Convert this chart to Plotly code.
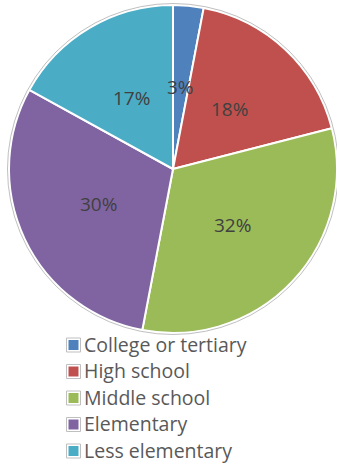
import math
import plotly.graph_objects as go

# Share of respondents by highest education level
categories = ["College or tertiary", "High school", "Middle school", "Elementary", "Less elementary"]
shares = [3, 18, 32, 30, 17]
colors = ["#4f81bd", "#c0504d", "#9bbb59", "#8064a2", "#4bacc6"]

W, H = 337, 464
cx, cy, R = 173, 169, 164  # pie centre and radius in pixels


def px_x(x):
    return x / W


def px_y(y):
    return 1 - y / H


fig = go.Figure(go.Pie(
    labels=categories,
    values=shares,
    sort=False,
    direction="clockwise",
    rotation=0,
    marker=dict(colors=colors, line=dict(color="white", width=2)),
    textinfo="none",
    textposition="none",
    hoverinfo="label+percent",
    showlegend=False,
    domain=dict(x=[px_x(cx - R), min(1, px_x(cx + R))],
                y=[px_y(cy + R), px_y(cy - R)]),
))

# percentage labels placed halfway out along each slice's mid-angle
total = sum(shares)
acc = 0
for v in shares:
    mid = (acc + v / 2) / total * 2 * math.pi
    acc += v
    lx = cx + 0.5 * R * math.sin(mid)
    ly = cy - 0.5 * R * math.cos(mid)
    fig.add_annotation(x=px_x(lx), y=px_y(ly), xref="paper", yref="paper",
                       xanchor="center", yanchor="middle",
                       text=f"{round(v / total * 100)}%", showarrow=False,
                       font=dict(family="Open Sans", size=19, color="#404040"))

# thin grey rim around the pie
rr = R + 1.5
fig.add_shape(type="circle", xref="paper", yref="paper",
              x0=px_x(cx - rr), x1=px_x(cx + rr),
              y0=px_y(cy + rr), y1=px_y(cy - rr),
              line=dict(color="#c0c0c0", width=1), layer="above")

# legend: boxed colour swatch followed by the category name
leg_x, leg_y0, leg_dy, sw, sh = 66.5, 345, 26.5, 14, 14
for i, (name, col) in enumerate(zip(categories, colors)):
    yc = leg_y0 + i * leg_dy
    fig.add_shape(type="rect", xref="paper", yref="paper",
                  x0=px_x(leg_x), x1=px_x(leg_x + sw),
                  y0=px_y(yc + sh / 2), y1=px_y(yc - sh / 2),
                  fillcolor="white", line=dict(color="#bfbfbf", width=1))
    fig.add_shape(type="rect", xref="paper", yref="paper",
                  x0=px_x(leg_x + 2), x1=px_x(leg_x + sw - 2),
                  y0=px_y(yc + sh / 2 - 2), y1=px_y(yc - sh / 2 + 2),
                  fillcolor=col, line=dict(width=0))
    fig.add_annotation(x=px_x(leg_x + sw + 1.5), y=px_y(yc - 1), xref="paper", yref="paper",
                       xanchor="left", yanchor="middle", showarrow=False,
                       text=name, font=dict(family="Open Sans", size=19.5, color="#595959"))

fig.update_layout(
    width=W, height=H,
    margin=dict(l=0, r=0, t=0, b=0),
    paper_bgcolor="white",
    showlegend=False,
)

fig.write_html("out.html")
